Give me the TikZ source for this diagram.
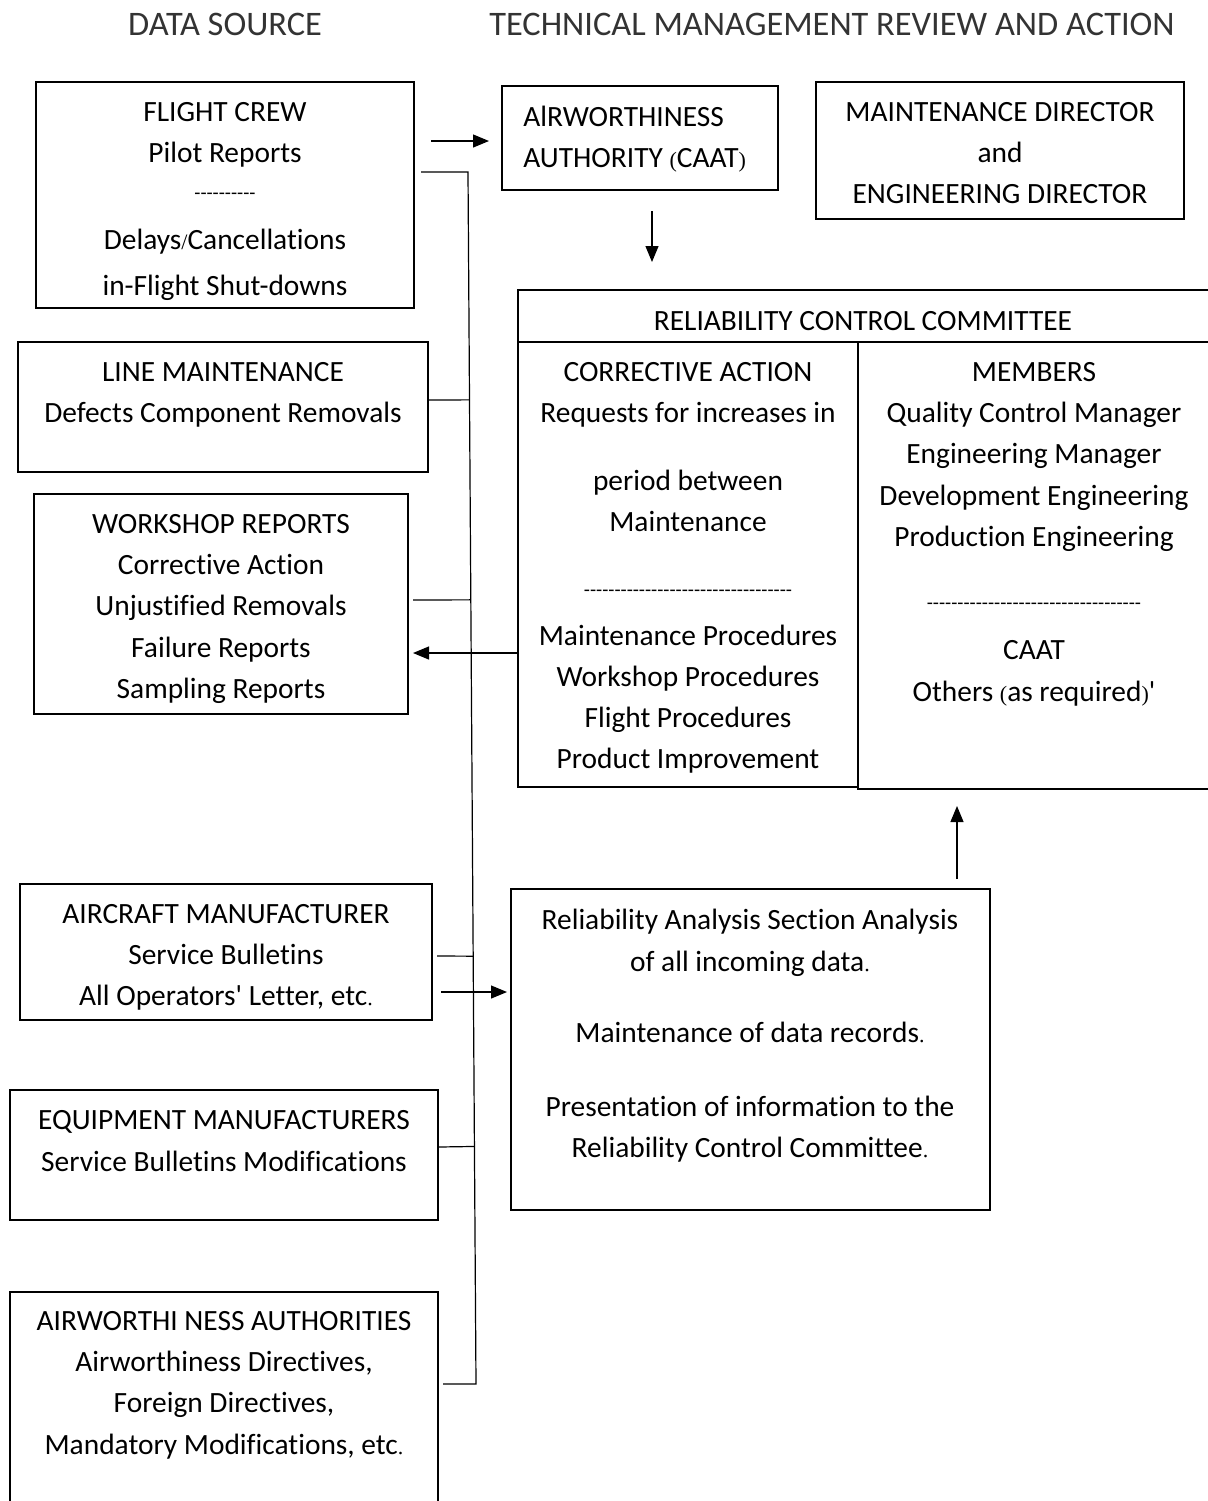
\documentclass[tikz,border=0pt]{standalone}
\usepackage{fontspec}
\setmainfont{Carlito}[Ligatures=NoCommon]
\newfontfamily\serifbit{Liberation Serif}
\usetikzlibrary{calc,arrows.meta}

\newcommand{\sm}[1]{{\serifbit\fontsize{11}{12}\selectfont #1}}
\newcommand{\dashrow}[1]{{\fontsize{10}{12}\selectfont\foreach \k in {1,...,#1}{-}}}

\tikzset{
  box/.style={draw, line width=1pt, inner sep=0pt},
  txt/.style={align=center, inner sep=0pt, anchor=north, font=\fontsize{14.7}{20.5}\selectfont},
  head/.style={inner sep=0pt, anchor=north, text=black!80, font=\fontsize{17.2}{20}\selectfont},
  link/.style={line width=0.6pt}
}

\begin{document}
\begin{tikzpicture}[x=0.5pt, y=-0.5pt, >={Triangle[length=8pt,width=6.5pt]}]
\useasboundingbox (0,0) rectangle (1208,1501);

% headings
\node[head] (srchead) at (225,13) {DATA SOURCE};
\node[head] (acthead) at (832,13) {TECHNICAL MANAGEMENT REVIEW AND ACTION};

% data source boxes
\node[box, minimum width=189pt, minimum height=113pt] (crew) at (225,195) {};
\node[box, minimum width=205pt, minimum height=65pt] (linemaint) at (223,407) {};
\node[box, minimum width=187pt, minimum height=110pt] (workshop) at (221,604) {};
\node[box, minimum width=206pt, minimum height=68pt] (aircraft) at (226,952) {};
\node[box, minimum width=214pt, minimum height=65pt] (equip) at (224,1155) {};
\node[box, minimum width=214pt, minimum height=109pt] (airauths) at (224,1401) {};

\node[txt] (crewtxt) at (225,102) {FLIGHT CREW\\Pilot Reports\\[-2pt]\dashrow{10}\\[4.5pt]Delays\sm{/}Cancellations\\[2.5pt]in-Flight Shut-downs};
\node[txt] (linetxt) at (223,362) {LINE MAINTENANCE\\Defects Component Removals};
\node[txt] (shoptxt) at (221,514) {WORKSHOP REPORTS\\Corrective Action\\Unjustified Removals\\[0.5pt]Failure Reports\\Sampling Reports};
\node[txt] (acfttxt) at (226,904) {AIRCRAFT MANUFACTURER\\Service Bulletins\\All Operators\textquotesingle{} Letter, etc\sm{.}};
\node[txt] (equiptxt) at (224,1110) {EQUIPMENT MANUFACTURERS\\[0.5pt]Service Bulletins Modifications};
\node[txt] (authstxt) at (224,1311) {AIRWORTHI NESS AUTHORITIES\\Airworthiness Directives,\\Foreign Directives,\\[0.5pt]Mandatory Modifications, etc\sm{.}};

% review and action boxes
\node[box, minimum width=138pt, minimum height=52pt] (airauth) at (640,138) {};
\node[box, minimum width=184pt, minimum height=68.5pt] (director) at (1000,150.5) {};
\node[box, minimum width=348.5pt, minimum height=26pt] (comm) at (866.5,316) {};
\node[box, minimum width=170pt, minimum height=222.5pt] (action) at (688,564.5) {};
\node[box, minimum width=178.5pt, minimum height=223.5pt] (members) at (1036.5,565.5) {};
\node[box, minimum width=239.5pt, minimum height=160.5pt] (analysis) at (750.5,1049.5) {};

\node[txt, anchor=north west, align=left] (airauthtxt) at (523,106) {AlRWORTHINESS\\AUTHORITY \sm{(}CAAT\sm{)}};
\node[txt] (directortxt) at (1000,102) {MAINTENANCE DIRECTOR\\and\\ENGINEERING DIRECTOR};
\node[txt] (commtxt) at (863,311) {RELIABILITY CONTROL COMMITTEE};
\node[txt] (actiontxt) at (688,362) {CORRECTIVE ACTION\\Requests for increases in\\[13.5pt]period between\\Maintenance\\[12pt]\dashrow{34}\\[4pt]Maintenance Procedures\\Workshop Procedures\\Flight Procedures\\Product Improvement};
\node[txt] (memberstxt) at (1034,362) {MEMBERS\\Quality Control Manager\\Engineering Manager\\[0.5pt]Development Engineering\\Production Engineering\\[11pt]\dashrow{35}\\[4.5pt]CAAT\\[0.5pt]Others \sm{(}as required\sm{)}\textquotesingle};
\node[txt] (analysistxt) at (750,909) {Reliability Analysis Section Analysis\\[0.5pt]of all incoming data\sm{.}\\[15pt]Maintenance of data records\sm{.}\\[16.5pt]Presentation of information to the\\Reliability Control Committee\sm{.}};

% arrows
\draw[link,->] ($(crew.east)+(16,-54)$) -- ($(airauth.west)+(-12,3)$);
\draw[link,->] ($(airauth.south)+(12,20)$) -- ($(comm.north)+(-214.5,-27)$);
\draw[link,->] ($(action.west)+(2,88.5)$) -- ($(workshop.east)+(4,49)$);
\draw[link,->] ($(aircraft.east)+(8,40)$) -- ($(analysis.west)+(-3,-57.5)$);
\draw[link,->] ($(analysis.north)+(206.5,-9)$) -- ($(members.south)+(-79.5,16)$);

% collecting line
\coordinate (bustop) at (468,172);
\coordinate (busbot) at (476,1384);
\draw[link] ($(crew.east)+(6,-23)$) -- (bustop) -- (busbot) -- ($(airauths.east)+(4,-17)$);
\draw[link] ($(linemaint.east)+(0,-7)$) -- ($(bustop)!0.188!(busbot)$);
\draw[link] ($(workshop.east)+(4,-4)$) -- ($(bustop)!0.353!(busbot)$);
\draw[link] ($(aircraft.east)+(4,4)$) -- ($(bustop)!0.647!(busbot)$);
\draw[link] ($(equip.east)+(0,-8)$) -- ($(bustop)!0.804!(busbot)$);
\end{tikzpicture}
\end{document}
